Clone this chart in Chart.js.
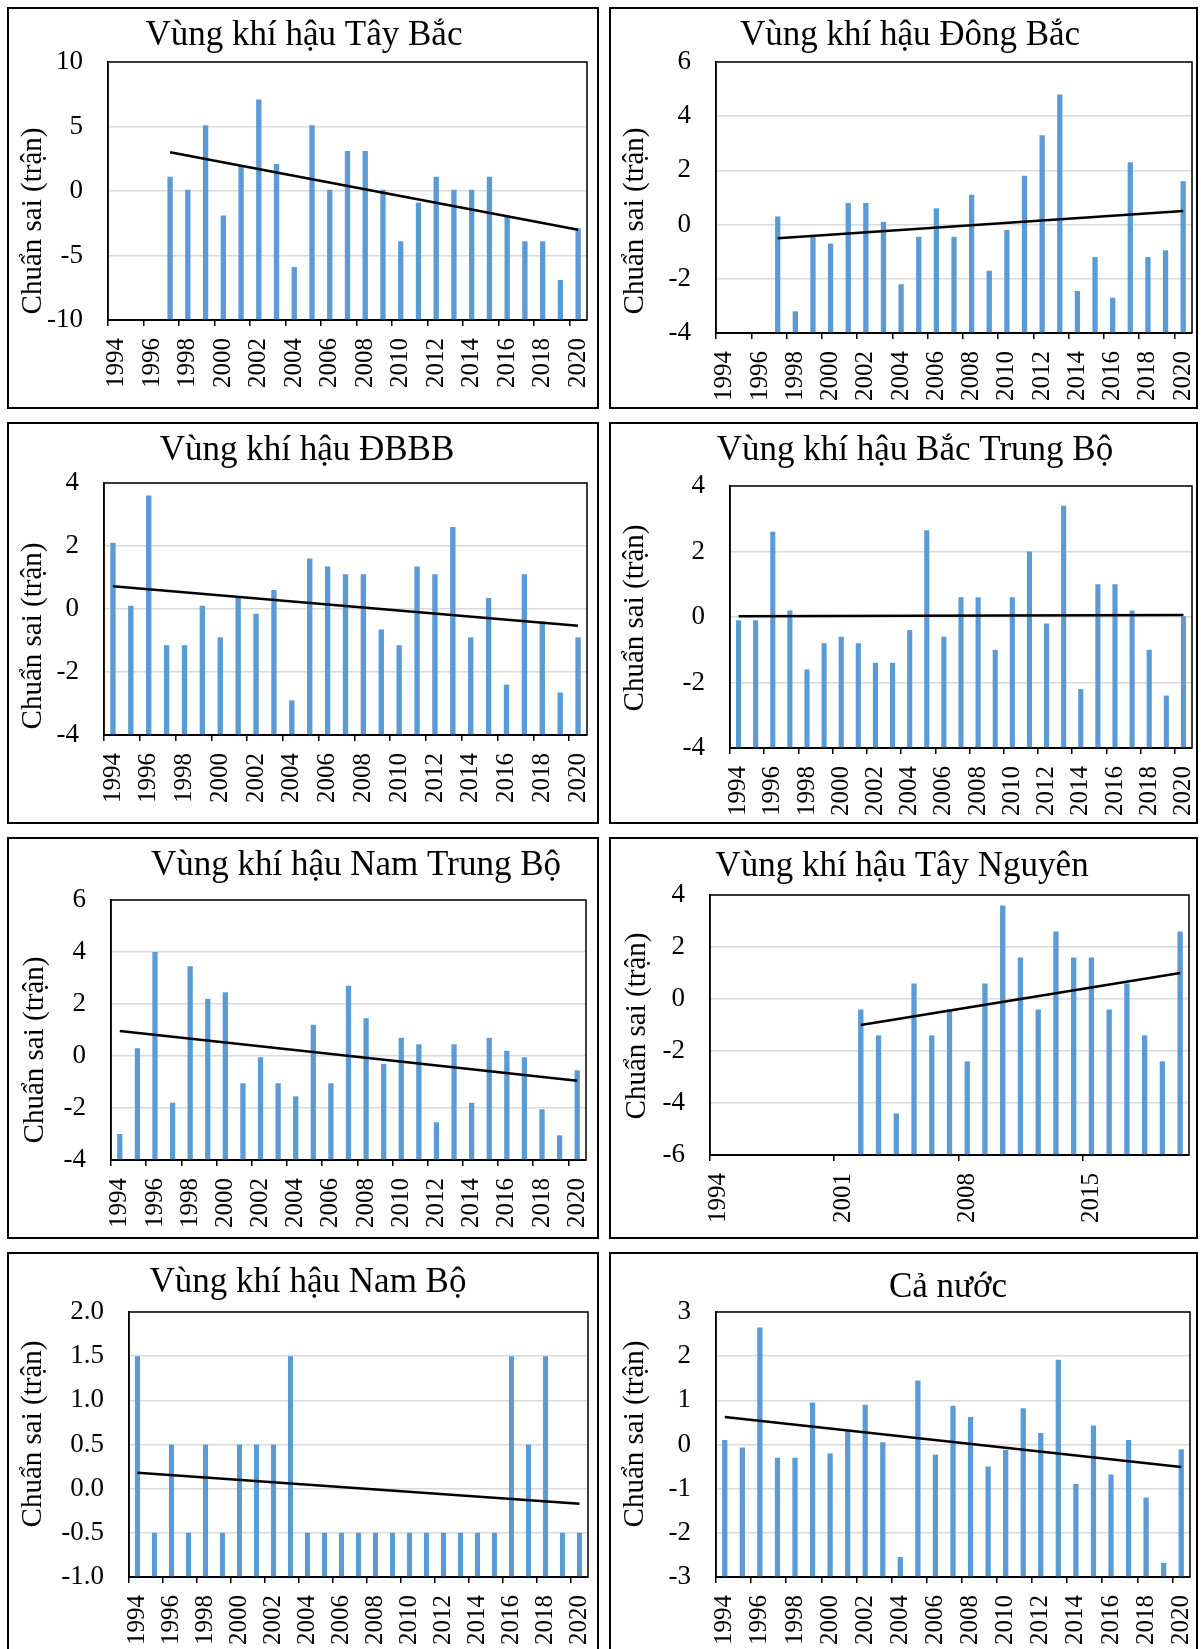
<!DOCTYPE html>
<html>
<head>
<meta charset="utf-8">
<script src="https://cdn.jsdelivr.net/npm/chart.js@4.4.1/dist/chart.umd.min.js"></script>
<style>
  html, body { margin: 0; padding: 0; background: #fff; }
  body { width: 1201px; height: 1649px; position: relative; overflow: hidden; }
  .panel { position: absolute; border: 2px solid #000; box-sizing: border-box; }
  .panel canvas { position: absolute; left: -2px; top: -2px; }
</style>
</head>
<body>
<script>
// categories
const years = ['1994','1995','1996','1997','1998','1999','2000','2001','2002','2003','2004','2005','2006','2007',
  '2008','2009','2010','2011','2012','2013','2014','2015','2016','2017','2018','2019','2020'];

// tick labels shown on the x axis
const xLabelsBy2 = ['1994','1996','1998','2000','2002','2004','2006','2008','2010','2012','2014','2016','2018','2020'];
const xLabelsBy7 = ['1994','2001','2008','2015'];

// anomaly values (trận)
const tayBac = [null, null, null, 1.1, 0.1, 5.1, -1.9, 2.0, 7.1, 2.1, -5.9, 5.1, 0.1, 3.1, 3.1, 0.1, -3.9, -0.9, 1.1, 0.1, 0.1, 1.1, -1.9, -3.9, -3.9, -6.9, -2.9];
const dongBac = [null, null, null, 0.3, -3.2, -0.45, -0.7, 0.8, 0.8, 0.1, -2.2, -0.45, 0.6, -0.45, 1.1, -1.7, -0.2, 1.8, 3.3, 4.8, -2.45, -1.2, -2.7, 2.3, -1.2, -0.95, 1.6];
const dbbb = [2.1, 0.1, 3.6, -1.15, -1.15, 0.1, -0.9, 0.35, -0.15, 0.6, -2.9, 1.6, 1.35, 1.1, 1.1, -0.65, -1.15, 1.35, 1.1, 2.6, -0.9, 0.35, -2.4, 1.1, -0.4, -2.65, -0.9];
const bacTrungBo = [-0.1, -0.1, 2.6, 0.2, -1.6, -0.8, -0.6, -0.8, -1.4, -1.4, -0.4, 2.65, -0.6, 0.6, 0.6, -1.0, 0.6, 2.0, -0.2, 3.4, -2.2, 1.0, 1.0, 0.2, -1.0, -2.4, 0.02];
const namTrungBo = [-3.0, 0.3, 4.0, -1.8, 3.45, 2.2, 2.45, -1.05, -0.05, -1.05, -1.55, 1.2, -1.05, 2.7, 1.45, -0.3, 0.7, 0.45, -2.55, 0.45, -1.8, 0.7, 0.2, -0.05, -2.05, -3.05, -0.55];
const tayNguyen = [null, null, null, null, null, null, null, null, -0.4, -1.4, -4.4, 0.6, -1.4, -0.4, -2.4, 0.6, 3.6, 1.6, -0.4, 2.6, 1.6, 1.6, -0.4, 0.6, -1.4, -2.4, 2.6];
const namBo = [1.5, -0.5, 0.5, -0.5, 0.5, -0.5, 0.5, 0.5, 0.5, 1.5, -0.5, -0.5, -0.5, -0.5, -0.5, -0.5, -0.5, -0.5, -0.5, -0.5, -0.5, -0.5, 1.5, 0.5, 1.5, -0.5, -0.5];
const caNuoc = [0.1, -0.07, 2.65, -0.3, -0.3, 0.95, -0.2, 0.3, 0.9, 0.05, -2.55, 1.45, -0.23, 0.88, 0.62, -0.5, -0.12, 0.82, 0.26, 1.92, -0.89, 0.43, -0.68, 0.1, -1.2, -2.68, -0.11];

// linear trend end values [first year, 2020]
const tayBacTrend = [3.0, -3.0];
const dongBacTrend = [-0.5, 0.5];
const dbbbTrend = [0.72, -0.53];
const bacTrungBoTrend = [0.02, 0.06];
const namTrungBoTrend = [0.96, -0.95];
const tayNguyenTrend = [-1.0, 1.0];
const namBoTrend = [0.18, -0.17];
const caNuocTrend = [0.62, -0.51];

// y axis ticks
const yTicksTayBac = [-10, -5, 0, 5, 10];
const yTicksDongBac = [-4, -2, 0, 2, 4, 6];
const yTicksDbbb = [-4, -2, 0, 2, 4];
const yTicksBacTrungBo = [-4, -2, 0, 2, 4];
const yTicksNamTrungBo = [-4, -2, 0, 2, 4, 6];
const yTicksTayNguyen = [-6, -4, -2, 0, 2, 4];
const yTicksNamBo = [-1.0, -0.5, 0.0, 0.5, 1.0, 1.5, 2.0];
const yTicksCaNuoc = [-3, -2, -1, 0, 1, 2, 3];

const FONT = "'Liberation Serif', 'Times New Roman', serif";
const BLUE = '#5B9BD5';
const AXIS_TITLE = 'Chuẩn sai (trận)';

// page layout of the eight boxes: box [x, y, w, h], plot [left, top, right, bottom]
const panels = [
  { title: 'Vùng khí hậu Tây Bắc', values: tayBac, trend: tayBacTrend, trendFrom: '1997', yTicks: yTicksTayBac, shown: xLabelsBy2,
    box: [7, 7, 592, 402], plot: [108, 62, 587, 320], titlePos: [304, 45], labelPos: [33, 221] },
  { title: 'Vùng khí hậu Đông Bắc', values: dongBac, trend: dongBacTrend, trendFrom: '1997', yTicks: yTicksDongBac, shown: xLabelsBy2,
    box: [609, 7, 589, 402], plot: [716, 62, 1192, 333], titlePos: [910, 45], labelPos: [635, 221] },
  { title: 'Vùng khí hậu ĐBBB', values: dbbb, trend: dbbbTrend, trendFrom: '1994', yTicks: yTicksDbbb, shown: xLabelsBy2,
    box: [7, 422, 592, 402], plot: [104, 483, 587, 735], titlePos: [307, 460], labelPos: [33, 636] },
  { title: 'Vùng khí hậu Bắc Trung Bộ', values: bacTrungBo, trend: bacTrungBoTrend, trendFrom: '1994', yTicks: yTicksBacTrungBo, shown: xLabelsBy2,
    box: [609, 422, 589, 402], plot: [730, 486, 1192, 748], titlePos: [915, 460], labelPos: [635, 618] },
  { title: 'Vùng khí hậu Nam Trung Bộ', values: namTrungBo, trend: namTrungBoTrend, trendFrom: '1994', yTicks: yTicksNamTrungBo, shown: xLabelsBy2,
    box: [7, 837, 592, 402], plot: [111, 900, 586, 1160], titlePos: [356, 875], labelPos: [35, 1050] },
  { title: 'Vùng khí hậu Tây Nguyên', values: tayNguyen, trend: tayNguyenTrend, trendFrom: '2002', yTicks: yTicksTayNguyen, shown: xLabelsBy7,
    box: [609, 837, 589, 402], plot: [710, 895, 1189, 1155], titlePos: [902, 876], labelPos: [637, 1026] },
  { title: 'Vùng khí hậu Nam Bộ', values: namBo, trend: namBoTrend, trendFrom: '1994', yTicks: yTicksNamBo, shown: xLabelsBy2, decimals: 1,
    box: [7, 1252, 592, 402], plot: [129, 1312, 588, 1577], titlePos: [308, 1292], labelPos: [33, 1434] },
  { title: 'Cả nước', values: caNuoc, trend: caNuocTrend, trendFrom: '1994', yTicks: yTicksCaNuoc, shown: xLabelsBy2,
    box: [609, 1252, 589, 402], plot: [716, 1312, 1190, 1577], titlePos: [948, 1297], labelPos: [635, 1434] }
];

// title, y axis title and plot frame
const panelText = {
  id: 'panelText',
  afterDraw(chart, args, o) {
    const ctx = chart.ctx, a = chart.chartArea;
    ctx.save();
    ctx.strokeStyle = '#000';
    ctx.lineWidth = 1.5;
    ctx.beginPath();
    ctx.moveTo(a.left, a.bottom);
    ctx.lineTo(a.left, a.top);
    ctx.lineTo(a.right, a.top);
    ctx.lineTo(a.right, a.bottom);
    ctx.stroke();
    ctx.fillStyle = '#000';
    ctx.textAlign = 'center';
    ctx.textBaseline = 'alphabetic';
    ctx.font = '35px ' + FONT;
    ctx.fillText(o.title, o.titleX, o.titleY);
    ctx.translate(o.labelX, o.labelY);
    ctx.rotate(-Math.PI / 2);
    ctx.textBaseline = 'middle';
    ctx.font = '29px ' + FONT;
    ctx.fillText(AXIS_TITLE, 0, 0);
    ctx.restore();
  }
};

panels.forEach(p => {
  const [bx, by, bw, bh] = p.box;
  const [pl, pt, pr, pb] = p.plot;
  const div = document.createElement('div');
  div.className = 'panel';
  div.style.left = bx + 'px';
  div.style.top = by + 'px';
  div.style.width = bw + 'px';
  div.style.height = bh + 'px';
  const cv = document.createElement('canvas');
  cv.width = bw;
  cv.height = bh;
  cv.style.width = bw + 'px';
  cv.style.height = bh + 'px';
  div.appendChild(cv);
  document.body.appendChild(div);

  const trendLine = years.map(() => null);
  trendLine[years.indexOf(p.trendFrom)] = p.trend[0];
  trendLine[years.length - 1] = p.trend[1];

  const yMin = p.yTicks[0], yMax = p.yTicks[p.yTicks.length - 1];

  new Chart(cv, {
    type: 'bar',
    data: {
      labels: years,
      datasets: [
        { type: 'line', data: trendLine, borderColor: '#000', borderWidth: 2.5, pointRadius: 0,
          spanGaps: true, tension: 0, order: 0 },
        { type: 'bar', data: p.values, backgroundColor: BLUE, base: yMin,
          barPercentage: 0.3, categoryPercentage: 1, order: 1 }
      ]
    },
    options: {
      responsive: false,
      animation: false,
      devicePixelRatio: 1,
      layout: { padding: { left: 0, top: pt - by, right: bx + bw - pr, bottom: 0 } },
      plugins: {
        legend: { display: false },
        tooltip: { enabled: false },
        title: { display: false },
        panelText: { title: p.title, titleX: p.titlePos[0] - bx, titleY: p.titlePos[1] - by,
                     labelX: p.labelPos[0] - bx, labelY: p.labelPos[1] - by }
      },
      scales: {
        x: {
          offset: true,
          grid: { offset: true, drawOnChartArea: false, drawTicks: true, tickLength: 6, lineWidth: 1.5,
                  color: c => p.shown.includes(years[c.index]) ? '#000' : 'rgba(0,0,0,0)' },
          border: { display: true, color: '#000', width: 2 },
          ticks: { autoSkip: false, minRotation: 90, maxRotation: 90, padding: 12, color: '#000',
                   font: { family: FONT, size: 25 },
                   callback: (v, i) => p.shown.includes(years[i]) ? years[i] : '' },
          afterFit: s => { s.height = by + bh - pb; s.paddingLeft = 0; s.paddingRight = 0; }
        },
        y: {
          min: yMin,
          max: yMax,
          grid: { color: '#D9D9D9', lineWidth: 1.5, drawTicks: false },
          border: { display: true, color: '#000', width: 1.5 },
          ticks: { stepSize: p.yTicks[1] - p.yTicks[0], padding: 25, color: '#000',
                   font: { family: FONT, size: 27 },
                   callback: v => p.decimals ? Number(v).toFixed(p.decimals) : String(v) },
          afterFit: s => { s.width = pl - bx; s.paddingTop = 0; s.paddingBottom = 0; }
        }
      }
    },
    plugins: [panelText]
  });
});
</script>
</body>
</html>
